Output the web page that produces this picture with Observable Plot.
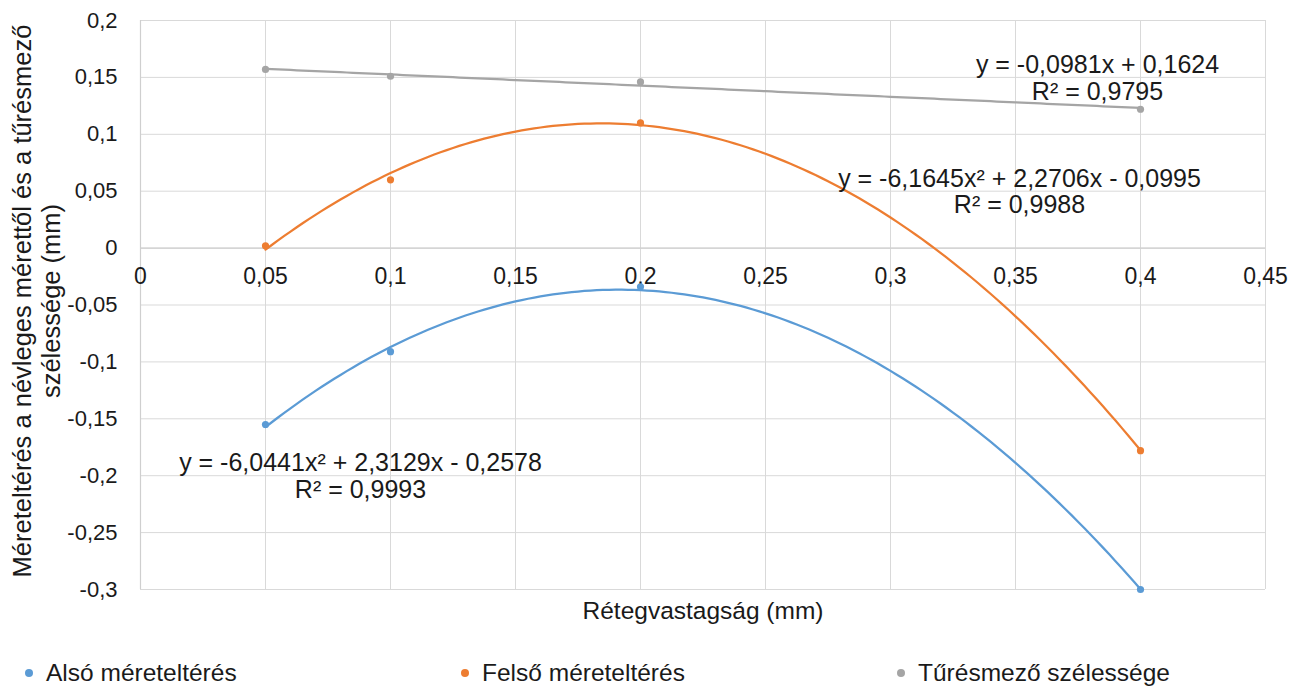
<!DOCTYPE html>
<html>
<head>
<meta charset="utf-8">
<script src="https://cdn.jsdelivr.net/npm/d3@7"></script>
<script src="https://cdn.jsdelivr.net/npm/@observablehq/plot@0.6"></script>
<style>
  html, body { margin: 0; padding: 0; background: #fff; overflow: hidden; }
  body { font-family: "Liberation Sans", Arial, sans-serif; color: #1a1a1a; }
  #legend { position: relative; width: 1303px; height: 51px; font-size: 24.5px; }
  .item { position: absolute; top: 19px; line-height: 28px; white-space: nowrap; }
  .dot { position: absolute; width: 8px; height: 8px; border-radius: 50%; top: 29px; }
</style>
</head>
<body>
<div id="chart"></div>
<div id="legend"></div>
<script>
// ---- data ----
const layerThickness = [0.05, 0.1, 0.2, 0.4];
const seriesNames = ["Alsó méreteltérés", "Felső méreteltérés", "Tűrésmező szélessége"];
const alsoValues  = [-0.155, -0.091, -0.034, -0.300];
const felsoValues = [0.002, 0.060, 0.110, -0.178];
const turesValues = [0.157, 0.151, 0.146, 0.122];
const seriesColors = ["#5B9BD5", "#ED7D31", "#A5A5A5"];
const xTicks = [0, 0.05, 0.1, 0.15, 0.2, 0.25, 0.3, 0.35, 0.4, 0.45];
const yTicks = [-0.3, -0.25, -0.2, -0.15, -0.1, -0.05, 0, 0.05, 0.1, 0.15, 0.2];
// trendline coefficients for y = a x^2 + b x + c
const trendA = [-6.0441, -6.1645, 0];
const trendB = [2.3129, 2.2706, -0.0981];
const trendC = [-0.2578, -0.0995, 0.1624];
const trendEquations = ["y = -6,0441x² + 2,3129x - 0,2578", "y = -6,1645x² + 2,2706x - 0,0995", "y = -0,0981x + 0,1624"];
const trendR2 = ["R² = 0,9993", "R² = 0,9988", "R² = 0,9795"];
const xTitle = "Rétegvastagság (mm)";
const yTitle = "Méreteltérés a névleges mérettől és a tűrésmező\nszélessége (mm)";

// ---- derived tables ----
const allValues = [alsoValues, felsoValues, turesValues];
const points = allValues.flatMap((vals, s) =>
  vals.map((v, i) => ({x: layerThickness[i], y: v, s})));
const xMin = d3.min(layerThickness), xMax = d3.max(layerThickness);
const sampleX = d3.range(0, 141).map(i => xMin + (xMax - xMin) * i / 140);
const trend = seriesNames.flatMap((_, s) =>
  sampleX.map(x => ({x, y: trendA[s] * x * x + trendB[s] * x + trendC[s], s})));
// label placement (in data units)
const labelPos = [{x: 0.088, y: -0.2004}, {x: 0.3516, y: 0.0496}, {x: 0.3828, y: 0.1495}];
const labels = seriesNames.map((_, s) => ({...labelPos[s], text: trendEquations[s] + "\n" + trendR2[s]}));

const fmt = d => d === 0 ? "0" : String(d).replace(".", ",");
const grid = "#d9d9d9";
const textColor = "#1a1a1a";

const chart = Plot.plot({
  width: 1303,
  height: 640,
  marginLeft: 140,
  marginRight: 38,
  marginTop: 20,
  marginBottom: 51,
  style: {fontFamily: '"Liberation Sans", Arial, sans-serif', color: textColor, background: "#fff"},
  x: {domain: [0, 0.45]},
  y: {domain: [-0.3, 0.2]},
  marks: [
    Plot.gridX(xTicks, {stroke: grid, strokeOpacity: 1, strokeWidth: 1}),
    Plot.gridY(yTicks, {stroke: grid, strokeOpacity: 1, strokeWidth: 1}),
    Plot.ruleX([0], {stroke: "#cfcfcf", strokeWidth: 1.2}),
    Plot.ruleY([0], {stroke: "#cfcfcf", strokeWidth: 1.2}),
    Plot.axisY({ticks: yTicks, tickSize: 0, tickPadding: 23, tickFormat: fmt, fontSize: 22, label: null, fill: textColor}),
    Plot.axisX({ticks: [], tickSize: 0, label: null}),
    Plot.text(xTicks, {x: d => d, y: () => 0, dy: 29, text: fmt, fontSize: 23, fill: textColor}),
    Plot.text([xTitle], {frameAnchor: "bottom", dy: 29, fontSize: 24.5, fill: textColor}),
    Plot.text([yTitle], {frameAnchor: "left", textAnchor: "middle", dx: -104, dy: -4, rotate: -90, fontSize: 25.5, lineHeight: 1.1, fill: textColor}),
    Plot.line(trend, {x: "x", y: "y", z: "s", stroke: d => seriesColors[d.s], strokeWidth: 2.25, curve: "linear"}),
    Plot.dot(points, {x: "x", y: "y", r: 3.6, fill: d => seriesColors[d.s], stroke: null}),
    Plot.text(labels, {x: "x", y: "y", text: "text", fontSize: 25, lineHeight: 1.05, fill: textColor})
  ]
});
document.getElementById("chart").appendChild(chart);

// ---- legend (HTML, below the SVG) ----
const legend = document.getElementById("legend");
const legendX = [29, 465, 901];
seriesNames.forEach((name, s) => {
  const dot = document.createElement("span");
  dot.className = "dot";
  dot.style.left = (legendX[s] - 4) + "px";
  dot.style.background = seriesColors[s];
  legend.appendChild(dot);
  const item = document.createElement("span");
  item.className = "item";
  item.style.left = (legendX[s] + 17) + "px";
  item.textContent = name;
  legend.appendChild(item);
});
</script>
</body>
</html>
